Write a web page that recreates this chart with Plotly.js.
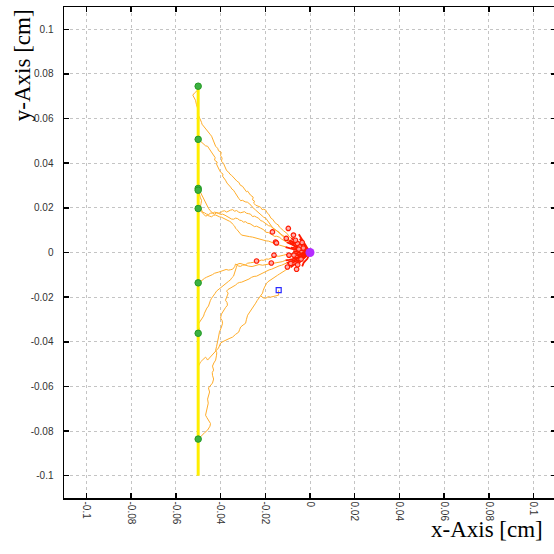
<!DOCTYPE html>
<html>
<head>
<meta charset="utf-8">
<script src="https://cdn.plot.ly/plotly-3.0.1.min.js"></script>
<style>html,body{margin:0;padding:0;overflow:hidden;background:#fff;}#plot{width:556px;height:554px;}</style>
</head>
<body>
<div id="plot"></div>
<script>
// ---- tick labels ----
const tickVals = [-0.1,-0.08,-0.06,-0.04,-0.02,0,0.02,0.04,0.06,0.08,0.1];
const tickText = ['-0.1','-0.08','-0.06','-0.04','-0.02','0','0.02','0.04','0.06','0.08','0.1'];

// ---- detector plane (yellow) ----
const detX = [-0.05,-0.05];
const detY = [-0.1,0.0745];

// ---- hits on the plane (green) ----
const hitX = [-0.05,-0.05,-0.05,-0.05,-0.05,-0.05,-0.05,-0.05];
const hitY = [0.0745,0.0507,0.0287,0.0279,0.0197,-0.0136,-0.0362,-0.0836];

// ---- source (purple) and stray point (blue) ----
const srcX = [0], srcY = [0];
const strayX = [-0.014], strayY = [-0.0169];

// ---- tracks: [x, y] vertices in cm ----
const track1 = [[0,0],[-0.0012,0.0004],[-0.0024,0.0015],[-0.0031,0.0019],[-0.0042,0.0028],[-0.0049,0.0036],[-0.006,0.0042],[-0.0066,0.0052],[-0.0078,0.006],[-0.0084,0.0064],[-0.0095,0.0073],[-0.0101,0.0084],[-0.0113,0.0091],[-0.0119,0.0098],[-0.0131,0.0109],[-0.0137,0.0114],[-0.0142,0.0124],[-0.0149,0.0127],[-0.0158,0.0136],[-0.0167,0.0149],[-0.0174,0.0153],[-0.0179,0.0165],[-0.0185,0.0172],[-0.0192,0.0178],[-0.0198,0.019],[-0.0207,0.0194],[-0.0214,0.0192],[-0.0221,0.0203],[-0.0232,0.0207],[-0.0243,0.0212],[-0.0252,0.0221],[-0.0248,0.023],[-0.0257,0.0236],[-0.0254,0.0248],[-0.0266,0.0257],[-0.0279,0.0275],[-0.0284,0.0272],[-0.0293,0.0284],[-0.0302,0.0297],[-0.0311,0.0301],[-0.0319,0.0315],[-0.0326,0.0319],[-0.0337,0.0333],[-0.0344,0.0337],[-0.0351,0.0346],[-0.0358,0.0351],[-0.0364,0.036],[-0.0373,0.0367],[-0.0378,0.0378],[-0.0384,0.0389],[-0.0387,0.04],[-0.0396,0.0409],[-0.0393,0.0423],[-0.04,0.0434],[-0.0397,0.0449],[-0.0409,0.0456],[-0.0413,0.0467],[-0.0422,0.0476],[-0.0427,0.049],[-0.0431,0.0503],[-0.0436,0.0512],[-0.044,0.0521],[-0.0447,0.053],[-0.0454,0.0539],[-0.0461,0.0545],[-0.0467,0.0552],[-0.0472,0.0561],[-0.0476,0.0566],[-0.0483,0.0575],[-0.0485,0.0583],[-0.049,0.0593],[-0.0494,0.0602],[-0.0499,0.0613],[-0.0503,0.0624],[-0.0499,0.0635],[-0.0503,0.0646],[-0.0508,0.0664],[-0.0512,0.0682],[-0.0521,0.0696],[-0.0524,0.0705],[-0.0517,0.0714],[-0.0508,0.0721],[-0.0503,0.0727],[-0.0499,0.0745]];

const track2 = [[0,0],[-0.0014,0.0003],[-0.0028,0.001],[-0.0037,0.0019],[-0.0051,0.0024],[-0.0058,0.0035],[-0.0073,0.0042],[-0.008,0.0049],[-0.0091,0.0055],[-0.01,0.006],[-0.0109,0.0069],[-0.0118,0.0074],[-0.0131,0.0082],[-0.0138,0.0091],[-0.0154,0.01],[-0.0161,0.0105],[-0.0172,0.0118],[-0.0178,0.0127],[-0.0185,0.0136],[-0.0191,0.0141],[-0.0198,0.0154],[-0.0207,0.0158],[-0.0216,0.0167],[-0.0223,0.0171],[-0.0234,0.0181],[-0.0243,0.019],[-0.0257,0.0203],[-0.0264,0.0212],[-0.0279,0.0225],[-0.029,0.0227],[-0.0302,0.0234],[-0.031,0.0232],[-0.0319,0.0243],[-0.0324,0.0252],[-0.0328,0.0261],[-0.0335,0.0268],[-0.0342,0.0279],[-0.0349,0.0284],[-0.0355,0.0293],[-0.0364,0.0302],[-0.0371,0.0311],[-0.0378,0.0324],[-0.0384,0.0331],[-0.0391,0.0342],[-0.0389,0.0351],[-0.04,0.036],[-0.0405,0.0369],[-0.0409,0.0378],[-0.0414,0.0387],[-0.0418,0.0396],[-0.0415,0.0405],[-0.0427,0.0414],[-0.0424,0.0425],[-0.0431,0.0436],[-0.0438,0.0443],[-0.044,0.0449],[-0.0449,0.0463],[-0.0458,0.0476],[-0.0467,0.0478],[-0.0476,0.0485],[-0.0483,0.0494],[-0.049,0.0499],[-0.0499,0.0508]];

const track3 = [[0,0],[-0.0011,0.0002],[-0.0019,0.0006],[-0.0028,0.0012],[-0.0037,0.0015],[-0.0046,0.0021],[-0.006,0.0024],[-0.0069,0.0031],[-0.0082,0.0037],[-0.0093,0.004],[-0.0104,0.0046],[-0.0114,0.0055],[-0.0127,0.006],[-0.0136,0.0068],[-0.0149,0.0073],[-0.0158,0.0072],[-0.0176,0.0082],[-0.0185,0.0089],[-0.0198,0.0091],[-0.0207,0.0102],[-0.0221,0.0109],[-0.023,0.0114],[-0.0239,0.0118],[-0.0248,0.0116],[-0.0257,0.0122],[-0.0268,0.0129],[-0.0279,0.0131],[-0.0288,0.0138],[-0.0297,0.0136],[-0.0306,0.0143],[-0.0315,0.0145],[-0.0324,0.0152],[-0.0333,0.0154],[-0.0342,0.0149],[-0.0351,0.015],[-0.036,0.0156],[-0.0369,0.0161],[-0.038,0.0167],[-0.0391,0.0172],[-0.04,0.017],[-0.0409,0.0176],[-0.0418,0.0179],[-0.0427,0.0181],[-0.0434,0.0176],[-0.044,0.0181],[-0.0447,0.0188],[-0.0454,0.0198],[-0.0461,0.0212],[-0.0467,0.0225],[-0.0471,0.0234],[-0.0476,0.0243],[-0.0481,0.0251],[-0.0485,0.0257],[-0.049,0.0266],[-0.0494,0.0275],[-0.0499,0.0288]];

const track4 = [[0,0],[-0.0012,0.0003],[-0.0024,0.001],[-0.0035,0.0013],[-0.0046,0.0019],[-0.0055,0.0024],[-0.0069,0.0028],[-0.0078,0.0037],[-0.0086,0.0046],[-0.0095,0.0052],[-0.0104,0.006],[-0.0113,0.0064],[-0.0122,0.0073],[-0.0131,0.0082],[-0.014,0.0091],[-0.0149,0.0098],[-0.0158,0.0105],[-0.0167,0.011],[-0.0176,0.0118],[-0.0185,0.012],[-0.0194,0.0127],[-0.0203,0.0134],[-0.0212,0.014],[-0.0221,0.0143],[-0.023,0.0154],[-0.0239,0.0158],[-0.0248,0.0163],[-0.0257,0.0161],[-0.0266,0.0172],[-0.0275,0.0174],[-0.0284,0.0176],[-0.0293,0.0183],[-0.0302,0.0181],[-0.031,0.0178],[-0.0319,0.0181],[-0.0328,0.0188],[-0.0337,0.0185],[-0.0346,0.0192],[-0.0355,0.019],[-0.0364,0.0185],[-0.0373,0.0181],[-0.0382,0.0187],[-0.0391,0.0185],[-0.04,0.0179],[-0.0409,0.0176],[-0.0418,0.0178],[-0.0427,0.0172],[-0.0436,0.0177],[-0.0445,0.0176],[-0.0454,0.017],[-0.0463,0.0172],[-0.0472,0.0178],[-0.0481,0.0181],[-0.0486,0.0194],[-0.049,0.0207],[-0.0487,0.022],[-0.0485,0.0234],[-0.049,0.0245],[-0.0494,0.0257],[-0.0496,0.0268],[-0.0499,0.0279]];

const track5 = [[0,0],[-0.0014,0.0004],[-0.0028,0.0006],[-0.004,0.0011],[-0.0055,0.001],[-0.0068,0.0014],[-0.0082,0.0015],[-0.0095,0.0021],[-0.0109,0.0024],[-0.0122,0.0027],[-0.0136,0.0033],[-0.0149,0.0037],[-0.0163,0.0042],[-0.0174,0.0048],[-0.0185,0.0051],[-0.0196,0.0052],[-0.0207,0.0055],[-0.0218,0.0061],[-0.023,0.0064],[-0.0243,0.0066],[-0.0257,0.0069],[-0.027,0.0071],[-0.0284,0.0073],[-0.0295,0.0076],[-0.0306,0.0078],[-0.0313,0.0086],[-0.0319,0.0095],[-0.0326,0.0102],[-0.0333,0.0109],[-0.0337,0.0118],[-0.0346,0.0127],[-0.0351,0.0134],[-0.036,0.014],[-0.0369,0.0145],[-0.0378,0.0149],[-0.0387,0.0156],[-0.0396,0.0158],[-0.0405,0.016],[-0.0413,0.0163],[-0.0422,0.0168],[-0.0431,0.0167],[-0.044,0.016],[-0.0449,0.0163],[-0.0458,0.0166],[-0.0467,0.0163],[-0.0474,0.0169],[-0.0481,0.0176],[-0.049,0.0187],[-0.0499,0.0198]];

const track6 = [[0,0],[-0.0014,-0.0002],[-0.0028,-0.0003],[-0.004,-0.0007],[-0.0051,-0.0008],[-0.0062,-0.0004],[-0.0073,-0.0003],[-0.0084,-0.0009],[-0.0095,-0.0012],[-0.0107,-0.0009],[-0.0118,-0.0012],[-0.0129,-0.0016],[-0.014,-0.0017],[-0.0152,-0.0015],[-0.0163,-0.0021],[-0.0174,-0.0026],[-0.0185,-0.003],[-0.0196,-0.0029],[-0.0207,-0.0035],[-0.0218,-0.0034],[-0.023,-0.0039],[-0.0241,-0.0038],[-0.0252,-0.0044],[-0.0266,-0.0046],[-0.0279,-0.0048],[-0.0288,-0.0055],[-0.0302,-0.0057],[-0.031,-0.0062],[-0.0319,-0.0061],[-0.0326,-0.0055],[-0.0333,-0.0052],[-0.0337,-0.0064],[-0.0346,-0.0075],[-0.0355,-0.0077],[-0.0364,-0.0079],[-0.0375,-0.0076],[-0.0387,-0.0079],[-0.0398,-0.0084],[-0.0409,-0.0088],[-0.0418,-0.009],[-0.0427,-0.0093],[-0.0436,-0.0099],[-0.0445,-0.0102],[-0.0454,-0.0106],[-0.0463,-0.0111],[-0.0472,-0.0116],[-0.0481,-0.0124],[-0.049,-0.0131],[-0.0499,-0.0138]];

const track7 = [[0,0],[-0.0021,-0.0009],[-0.0042,-0.0017],[-0.006,-0.0023],[-0.0078,-0.003],[-0.0093,-0.0033],[-0.0109,-0.0035],[-0.0124,-0.0041],[-0.014,-0.0044],[-0.0158,-0.0045],[-0.0176,-0.0048],[-0.0194,-0.0054],[-0.0212,-0.0057],[-0.0228,-0.0054],[-0.0243,-0.0057],[-0.0259,-0.0063],[-0.0275,-0.0061],[-0.0288,-0.0055],[-0.0302,-0.0052],[-0.0313,-0.0049],[-0.0324,-0.0052],[-0.0329,-0.0066],[-0.0333,-0.0079],[-0.0339,-0.0092],[-0.0342,-0.0106],[-0.0351,-0.0115],[-0.0355,-0.0122],[-0.0364,-0.0129],[-0.0373,-0.0136],[-0.0382,-0.0143],[-0.0391,-0.0151],[-0.04,-0.0158],[-0.0409,-0.0165],[-0.0418,-0.0173],[-0.0425,-0.0184],[-0.0436,-0.0196],[-0.044,-0.0205],[-0.0445,-0.0214],[-0.0449,-0.0227],[-0.0454,-0.024],[-0.0461,-0.0249],[-0.0467,-0.0259],[-0.0472,-0.0272],[-0.0476,-0.0285],[-0.0483,-0.0295],[-0.049,-0.0308],[-0.0497,-0.0317],[-0.0503,-0.0326],[-0.0498,-0.0335],[-0.0494,-0.0343],[-0.0499,-0.0362]];

const track8 = [[0,0],[-0.0014,-0.0006],[-0.0028,-0.0012],[-0.0042,-0.002],[-0.0055,-0.0026],[-0.0069,-0.0034],[-0.0082,-0.0039],[-0.0093,-0.0042],[-0.0104,-0.0048],[-0.0116,-0.0054],[-0.0127,-0.0057],[-0.0138,-0.006],[-0.0149,-0.0066],[-0.016,-0.0072],[-0.0172,-0.0075],[-0.0183,-0.0078],[-0.0194,-0.0084],[-0.0205,-0.0089],[-0.0216,-0.0093],[-0.0228,-0.01],[-0.0239,-0.0106],[-0.025,-0.0107],[-0.0261,-0.0111],[-0.0273,-0.0119],[-0.0284,-0.0124],[-0.0295,-0.0127],[-0.0306,-0.0133],[-0.0315,-0.0134],[-0.0324,-0.0138],[-0.0333,-0.0146],[-0.0342,-0.0151],[-0.0351,-0.0155],[-0.036,-0.016],[-0.0367,-0.0166],[-0.0373,-0.0173],[-0.0366,-0.0182],[-0.0369,-0.0191],[-0.0375,-0.0202],[-0.0378,-0.0214],[-0.0371,-0.0224],[-0.0369,-0.0236],[-0.0378,-0.0247],[-0.0387,-0.0259],[-0.0391,-0.0268],[-0.0396,-0.0276],[-0.0398,-0.0285],[-0.04,-0.0294],[-0.0393,-0.0305],[-0.0391,-0.0317],[-0.0396,-0.0334],[-0.0402,-0.0346],[-0.0405,-0.0357],[-0.0409,-0.0379],[-0.0411,-0.0392],[-0.0413,-0.0406],[-0.0418,-0.0422],[-0.0422,-0.0438],[-0.0417,-0.0449],[-0.0418,-0.046],[-0.0422,-0.0482],[-0.043,-0.0495],[-0.0436,-0.0509],[-0.0431,-0.0527],[-0.0437,-0.0538],[-0.0436,-0.055],[-0.0431,-0.0567],[-0.0436,-0.0585],[-0.0445,-0.0594],[-0.0454,-0.0607],[-0.0449,-0.0625],[-0.0454,-0.0639],[-0.0458,-0.0657],[-0.0455,-0.0675],[-0.0463,-0.0706],[-0.0467,-0.0729],[-0.0461,-0.074],[-0.0454,-0.0751],[-0.0445,-0.0766],[-0.0447,-0.0778],[-0.0458,-0.0796],[-0.047,-0.0806],[-0.0481,-0.0818],[-0.049,-0.0827],[-0.0499,-0.0836]];

const track9 = [[0,0],[-0.0012,-0.0009],[-0.0024,-0.0017],[-0.0035,-0.0026],[-0.0046,-0.0035],[-0.0058,-0.0043],[-0.0069,-0.0052],[-0.0078,-0.006],[-0.0086,-0.0066],[-0.0098,-0.0072],[-0.0109,-0.0079],[-0.0118,-0.0084],[-0.0127,-0.0088],[-0.0136,-0.0096],[-0.0145,-0.0102],[-0.0154,-0.0108],[-0.0163,-0.0115],[-0.0172,-0.0118],[-0.0181,-0.0124],[-0.0188,-0.0131],[-0.0194,-0.0138],[-0.0199,-0.0146],[-0.0203,-0.0155],[-0.0209,-0.0169],[-0.0212,-0.0182],[-0.0221,-0.0194],[-0.023,-0.0205],[-0.0236,-0.0215],[-0.0243,-0.0227],[-0.0252,-0.0241],[-0.0259,-0.0248],[-0.0266,-0.0259],[-0.0272,-0.027],[-0.0279,-0.0281],[-0.0284,-0.0299],[-0.0288,-0.0317],[-0.0299,-0.0325],[-0.031,-0.0334],[-0.0315,-0.0346],[-0.0319,-0.0357],[-0.0333,-0.0367],[-0.0346,-0.0379],[-0.0362,-0.0386],[-0.0378,-0.0392],[-0.0389,-0.0399],[-0.04,-0.0406],[-0.0405,-0.0417],[-0.0409,-0.0428],[-0.042,-0.044],[-0.0431,-0.0451],[-0.0438,-0.046],[-0.0445,-0.0469],[-0.0452,-0.0476],[-0.0458,-0.0482],[-0.0463,-0.0474],[-0.0467,-0.0469],[-0.0479,-0.048],[-0.049,-0.0491],[-0.0494,-0.05],[-0.0499,-0.0509]];

const track10 = [[-0.0221,-0.0194],[-0.0209,-0.0203],[-0.0198,-0.0205],[-0.0187,-0.0198],[-0.0176,-0.02],[-0.0163,-0.0196],[-0.0149,-0.0193],[-0.014,-0.0191],[-0.0142,-0.018],[-0.014,-0.0169]];

// short red tracks near the source
const red1 = [[0,0],[-0.002,0.0015],[-0.0035,0.003],[-0.0055,0.0045],[-0.0065,0.0058]];
const red2 = [[0,0],[-0.002,0.0005],[-0.0045,0.0012],[-0.0065,0.002],[-0.0085,0.0022]];
const red3 = [[0,0],[-0.0025,-0.0008],[-0.0048,-0.0012],[-0.0072,-0.0012]];
const red4 = [[0,0],[-0.0018,-0.0018],[-0.0035,-0.0032],[-0.005,-0.0048],[-0.0062,-0.0068]];
const red5 = [[0,0],[-0.0015,0.0025],[-0.003,0.0045],[-0.0042,0.0068],[-0.005,0.0082]];
const red6 = [[0,0],[-0.003,-0.0025],[-0.0055,-0.0035],[-0.0086,-0.0049]];
const red7 = [[0,0],[-0.0025,0.001],[-0.0045,0.0028],[-0.0058,0.004]];
const red8 = [[0,0],[-0.0012,-0.0028],[-0.0028,-0.0045],[-0.0035,-0.0062]];
const red9 = [[0,0],[-0.0022,0.0002],[-0.004,-0.0004],[-0.0058,0.0003],[-0.0075,0.0006]];
const red10 = [[0,0],[-0.0016,0.0012],[-0.0028,0.0022],[-0.0044,0.0019],[-0.0056,0.0027]];
const red11 = [[0,0],[-0.0019,-0.0011],[-0.0036,-0.0019],[-0.0052,-0.0024],[-0.0066,-0.0033]];
const red12 = [[0,0],[-0.0013,0.0018],[-0.0024,0.0036],[-0.0038,0.0051],[-0.0046,0.0062]];

// step points (red)
const stepX = [-0.0097,-0.0074,-0.0106,-0.0154,-0.0168,-0.0056,-0.0161,-0.0094,-0.0072,-0.0239,-0.0173,-0.0101,-0.0086,-0.0045,-0.004,-0.006,-0.003,-0.005,-0.0035,-0.0065,-0.0055,-0.015];
const stepY = [0.0108,0.0078,0.0063,0.0047,0.0092,0.004,-0.0012,-0.0012,-0.0012,-0.0038,-0.0047,-0.0065,-0.0049,0.0025,-0.003,-0.0075,0.002,0.0015,0.0045,0.0055,-0.0055,0.0043];

// ---- build traces ----
const tracks = [track1,track2,track3,track4,track5,track6,track7,track8,track9,track10];
const shortTracks = [red1,red2,red3,red4,red5,red6,red7,red8,red9,red10,red11,red12];
const RED_R = 0.0105;
const redX=[], redY=[], orX=[], orY=[];
tracks.forEach(pts=>{
  const n=pts.length;
  let k=0;
  while(k<n && Math.hypot(pts[k][0],pts[k][1])<RED_R) k++;
  if(k>0){ for(let i=0;i<Math.min(k+1,n);i++){redX.push(pts[i][0]);redY.push(pts[i][1]);} redX.push(null);redY.push(null); }
  const s=Math.max(k-1,0);
  for(let i=s;i<n;i++){orX.push(pts[i][0]);orY.push(pts[i][1]);}
  orX.push(null);orY.push(null);
});
shortTracks.forEach(pts=>{ pts.forEach(p=>{redX.push(p[0]);redY.push(p[1]);}); redX.push(null);redY.push(null); });

const data = [
  {x:orX,y:orY,mode:'lines',line:{color:'#ffad2a',width:1},hoverinfo:'skip'},
  {x:detX,y:detY,mode:'lines',line:{color:'#ffee00',width:3},hoverinfo:'skip'},
  {x:redX,y:redY,mode:'lines',line:{color:'#ff1a00',width:1.8},hoverinfo:'skip'},
  {x:stepX,y:stepY,mode:'markers',marker:{symbol:'circle',size:4.5,color:'rgba(255,170,170,0.9)',line:{color:'#ff1a00',width:1.2}},hoverinfo:'skip'},
  {x:hitX,y:hitY,mode:'markers',marker:{symbol:'circle',size:6.5,color:'#3cb043',line:{color:'#239b23',width:1}},hoverinfo:'skip'},
  {x:srcX,y:srcY,mode:'markers',marker:{symbol:'circle',size:9,color:'#b52cff'},hoverinfo:'skip'},
  {x:strayX,y:strayY,mode:'markers',marker:{symbol:'square-open',size:5,color:'#2a2aff',line:{width:1.2}},hoverinfo:'skip'}
];

const axisCommon = {
  range:[-0.11,0.11], tickmode:'array', tickvals:tickVals, ticktext:tickText,
  ticks:'inside', ticklen:5, tickwidth:1.5, tickcolor:'#000',
  showline:true, linecolor:'#000', linewidth:1.5, mirror:'ticks',
  showgrid:true, gridcolor:'#c4c4c4', griddash:'dot', gridwidth:1,
  zeroline:false, fixedrange:true,
  tickfont:{family:'Liberation Sans, Arial, sans-serif', size:10, color:'#333'}
};

const layout = {
  width:556, height:554, autosize:false,
  margin:{l:64,r:0,t:7,b:56,pad:0},
  paper_bgcolor:'#fff', plot_bgcolor:'#fff', showlegend:false,
  xaxis:Object.assign({}, axisCommon, {tickangle:90}),
  yaxis:Object.assign({}, axisCommon, {ticklabelstandoff:7}),
  annotations:[
    {text:'y-Axis [cm]', xref:'paper', yref:'paper', x:-0.085, y:1, xanchor:'center', yanchor:'top', textangle:-90, showarrow:false,
     font:{family:'Liberation Serif, Times New Roman, serif', size:23, color:'#000'}},
    {text:'x-Axis [cm]', xref:'paper', yref:'paper', x:0.978, y:-0.065, xanchor:'right', yanchor:'middle', showarrow:false,
     font:{family:'Liberation Serif, Times New Roman, serif', size:23, color:'#000'}}
  ]
};

Plotly.newPlot('plot', data, layout, {displayModeBar:false, staticPlot:true});
</script>
</body>
</html>
